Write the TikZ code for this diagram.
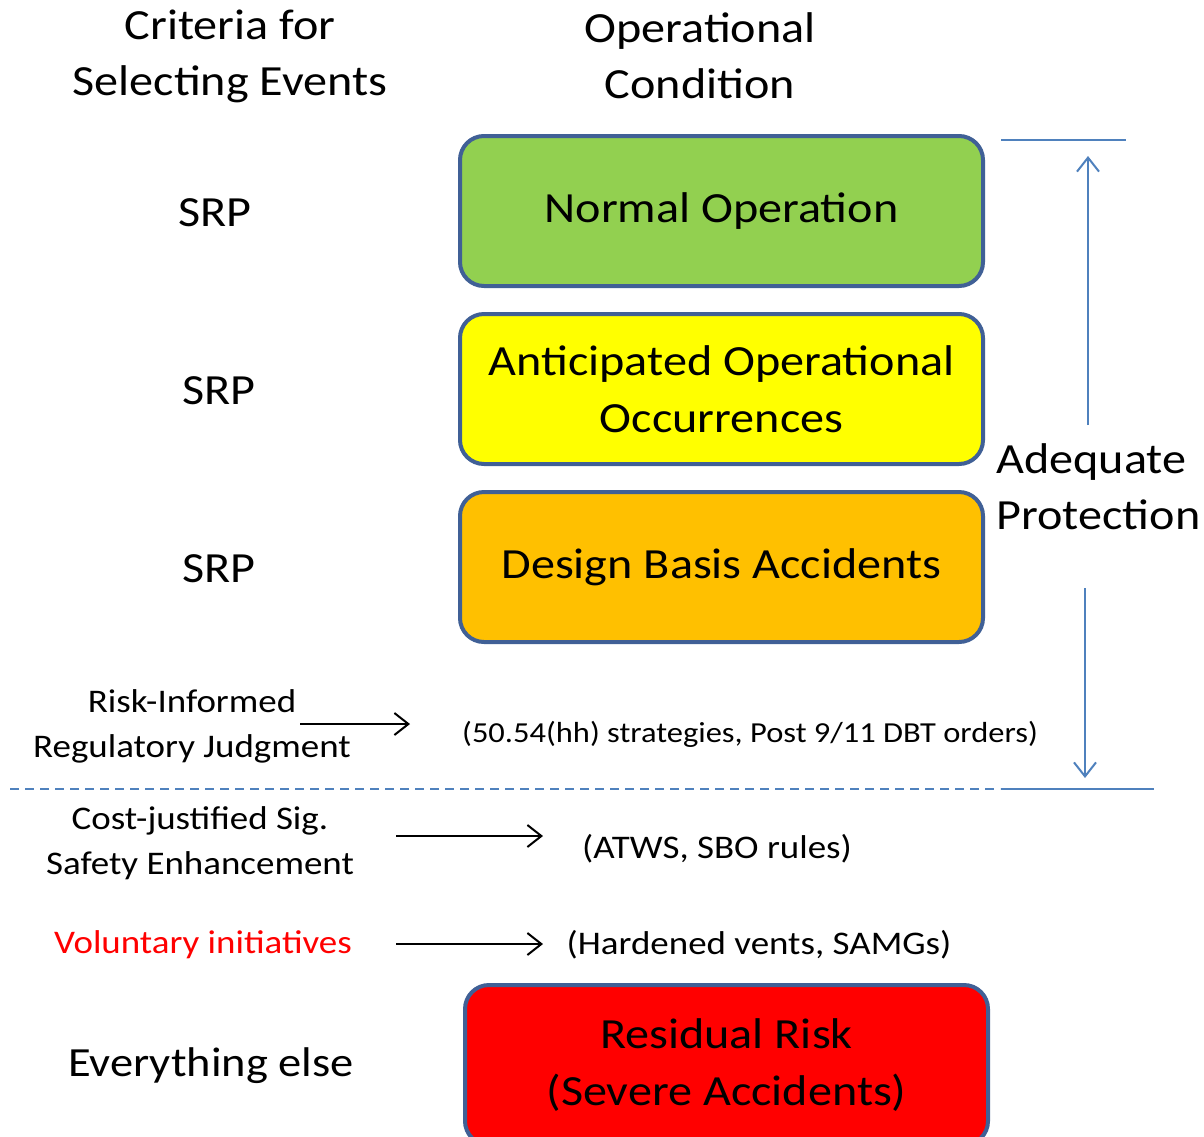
\documentclass[tikz,border=0pt]{standalone}
\usepackage{fontspec}
\setmainfont[FakeStretch=1.12]{Carlito}
\usetikzlibrary{arrows.meta}
\definecolor{boxedge}{RGB}{64,96,150}
\definecolor{linkblue}{RGB}{79,129,189}
\definecolor{nogreen}{RGB}{146,208,80}
\definecolor{aooyellow}{RGB}{255,255,0}
\definecolor{dbaorange}{RGB}{255,192,0}
\definecolor{rrred}{RGB}{255,0,0}
\tikzset{
  condbox/.style={draw=boxedge, line width=4pt, rounded corners=24pt, inner sep=0pt, minimum width=523pt, minimum height=150pt, align=center, font=\fontsize{43}{57}\selectfont},
  head/.style={align=center, font=\fontsize{43}{56}\selectfont},
  srplabel/.style={font=\fontsize{43}{52}\selectfont},
  mid/.style={align=center, font=\fontsize{33}{45}\selectfont},
  small/.style={align=center, font=\fontsize{29}{36}\selectfont},
  blackarrow/.style={line width=2pt, -{Straight Barb[length=14pt, width=22pt, line width=2pt]}},
  bluearrow/.style={draw=linkblue, line width=2pt, -{Straight Barb[length=14pt, width=22pt, line width=2pt]}},
  blueline/.style={draw=linkblue, line width=2pt},
}
\begin{document}
\begin{tikzpicture}[x=1pt, y=-1pt]
\clip (0,0) rectangle (1204,1136);
\fill[white] (0,0) rectangle (1204,1136);
% headers
\node[head] (hcrit) at (230,56) {Criteria for\\Selecting Events};
\node[head] (hcond) at (700,56) {Operational\\Condition};
% condition boxes
\node[condbox, fill=nogreen] (normal) at (721.5,211) {Normal Operation};
\node[condbox, fill=aooyellow] (aoo) at (721.5,389) {Anticipated Operational\\Occurrences};
\node[condbox, fill=dbaorange] (dba) at (721.5,567) {Design Basis Accidents};
\node[condbox, fill=rrred, minimum height=160pt] (rr) at (726.5,1065) {Residual Risk\\(Severe Accidents)};
% SRP labels
\node[srplabel] (srp1) at (215,213) {SRP};
\node[srplabel] (srp2) at (219,391) {SRP};
\node[srplabel] (srp3) at (219,569) {SRP};
% adequate protection
\node[head, align=left, anchor=west] (adeq) at (993,487) {Adequate\\Protection};
\coordinate (upstart) at (1088,425);
\coordinate (upend) at (1088,156);
\coordinate (downstart) at (1085,588);
\coordinate (downend) at (1085,778);
\draw[blueline] (1001,140) -- (1126,140);
\draw[blueline] (1001,789) -- (1154,789);
\draw[bluearrow] (upstart) -- (upend);
\draw[bluearrow] (downstart) -- (downend);
\draw[blueline, dash pattern=on 9pt off 6pt] (10,789) -- (1000,789);
% lower criteria
\node[mid] (rij) at (192,726) {Risk-Informed\\Regulatory Judgment};
\node[small] (hh) at (750,734) {(50.54(hh) strategies, Post 9/11 DBT orders)};
\coordinate (a1s) at (300,724);
\coordinate (a1e) at (410,724);
\draw[blackarrow] (a1s) -- (a1e);
\node[mid] (cost) at (200,843) {Cost-justified Sig.\\Safety Enhancement};
\node[mid] (atws) at (717,849) {(ATWS, SBO rules)};
\coordinate (a2s) at (396,836);
\coordinate (a2e) at (543,836);
\draw[blackarrow] (a2s) -- (a2e);
\node[mid, text=rrred] (vol) at (203,945) {Voluntary initiatives};
\node[mid] (hard) at (759,945) {(Hardened vents, SAMGs)};
\coordinate (a3s) at (396,944);
\coordinate (a3e) at (543,944);
\draw[blackarrow] (a3s) -- (a3e);
\node[font=\fontsize{41.5}{48}\selectfont] (else) at (211,1066) {Everything else};
\end{tikzpicture}
\end{document}
